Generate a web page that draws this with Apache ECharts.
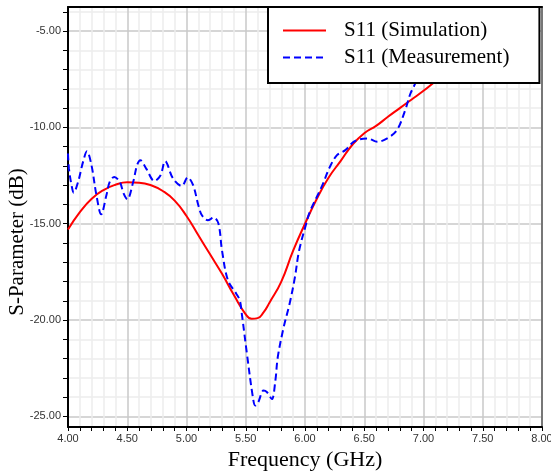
<!DOCTYPE html>
<html>
<head>
<meta charset="utf-8">
<script src="https://cdn.jsdelivr.net/npm/echarts@6/dist/echarts.min.js"></script>
<style>
html,body{margin:0;padding:0;background:#fff;}
#c{width:551px;height:472px;}
</style>
</head>
<body>
<div id="c"></div>
<script>
// ---- Data ----
var simFreq = [4.00,4.10,4.20,4.30,4.40,4.50,4.60,4.70,4.80,4.90,5.00,5.10,5.20,5.30,5.40,5.50,5.55,5.60,5.65,5.70,5.80,5.90,6.00,6.10,6.20,6.30,6.40,6.50,6.60,6.70,6.80,6.90,7.00,7.10,7.20,7.30];
var simS11 = [-15.3,-14.4,-13.7,-13.25,-12.98,-12.85,-12.87,-13.0,-13.3,-13.8,-14.6,-15.6,-16.6,-17.6,-18.7,-19.7,-19.93,-19.9,-19.6,-19.1,-18.0,-16.4,-15.0,-13.7,-12.6,-11.75,-10.9,-10.3,-9.92,-9.45,-9.0,-8.55,-8.1,-7.6,-7.1,-6.6];

var measFreq = [4.00,4.008,4.03,4.048,4.085,4.127,4.16,4.198,4.24,4.28,4.324,4.352,4.39,4.437,4.47,4.50,4.55,4.583,4.61,4.66,4.73,4.78,4.82,4.887,4.96,5.01,5.056,5.10,5.13,5.18,5.23,5.27,5.30,5.35,5.42,5.45,5.465,5.51,5.56,5.58,5.605,5.65,5.68,5.72,5.75,5.77,5.82,5.87,5.915,5.95,6.01,6.04,6.14,6.21,6.27,6.34,6.41,6.465,6.53,6.61,6.69,6.775,6.845,6.89,6.93,6.97];
var measS11 = [-11.35,-12.14,-13.0,-13.39,-12.83,-11.79,-11.24,-11.96,-13.52,-14.51,-13.52,-12.83,-12.57,-12.83,-13.44,-13.73,-12.83,-11.96,-11.7,-12.14,-12.78,-12.5,-11.76,-12.66,-13.04,-12.6,-13.0,-14.04,-14.56,-14.82,-14.68,-15.0,-16.4,-17.94,-18.63,-18.98,-19.59,-21.75,-24.0,-24.44,-24.27,-23.66,-23.75,-24.1,-23.14,-21.93,-20.37,-19.15,-17.77,-16.4,-15.0,-14.39,-13.09,-12.05,-11.44,-11.18,-10.75,-10.61,-10.58,-10.75,-10.58,-10.15,-9.11,-8.24,-7.72,-7.0];

var xMin = 4, xMax = 8;
var yMin = -25.55, yMax = -3.75;
var yTickValues = [-25,-24,-23,-22,-21,-20,-19,-18,-17,-16,-15,-14,-13,-12,-11,-10,-9,-8,-7,-6,-5,-4];
var yLabelValues = [-25,-20,-15,-10,-5];
var xLabelValues = [4.0,4.5,5.0,5.5,6.0,6.5,7.0,7.5,8.0];
var xTickValues = [];
for (var i = 40; i <= 80; i++) xTickValues.push(i / 10);

function zip(a, b) { return a.map(function (v, i) { return [v, b[i]]; }); }

var serif = '"Liberation Serif","Times New Roman",serif';
var sans = '"Liberation Sans",Arial,sans-serif';
var MAJOR = '#c9c9c9', MINOR = '#ececec';

var chart = echarts.init(document.getElementById('c'), null, {renderer: 'canvas'});
chart.setOption({
  animation: false,
  backgroundColor: '#fff',
  grid: {left: 68, right: 9, top: 7, bottom: 45, show: false, containLabel: false, outerBoundsMode: 'none'},
  legend: {
    orient: 'vertical',
    left: 268, top: 7,
    padding: [13, 30, 15, 14],
    itemWidth: 43, itemHeight: 14, itemGap: 6,
    backgroundColor: '#fff',
    borderColor: '#000', borderWidth: 2, borderRadius: 0,
    itemStyle: {opacity: 0},
    textStyle: {fontFamily: serif, fontSize: 21, color: '#000', lineHeight: 21, padding: [0, 0, 0, 13]},
    data: ['S11 (Simulation)', 'S11 (Measurement)']
  },
  xAxis: [{
    type: 'value', min: xMin, max: xMax, position: 'bottom',
    name: 'Frequency (GHz)', nameLocation: 'middle', nameGap: 22, nameMoveOverlap: false,
    nameTextStyle: {fontFamily: serif, fontSize: 22, color: '#000'},
    axisLine: {show: true, onZero: false, lineStyle: {color: '#000', width: 2}},
    axisTick: {show: true, length: 4, customValues: xTickValues, lineStyle: {color: '#000', width: 1}},
    axisLabel: {customValues: xLabelValues, fontFamily: sans, fontSize: 11, color: '#333', margin: 6,
      formatter: function (v) { return v.toFixed(2); }},
    splitLine: {show: true, lineStyle: {color: [MAJOR, MINOR, MINOR, MINOR, MINOR], width: 1.5}}
  }, {
    type: 'value', min: xMin, max: xMax, position: 'top',
    axisLine: {show: true, onZero: false, lineStyle: {color: '#000', width: 2}},
    axisTick: {show: false}, axisLabel: {show: false}, splitLine: {show: false}
  }],
  yAxis: [{
    type: 'value', min: yMin, max: yMax, position: 'left',
    name: 'S-Parameter (dB)', nameLocation: 'middle', nameGap: 40, nameMoveOverlap: false,
    nameTextStyle: {fontFamily: serif, fontSize: 21, color: '#000', padding: [0, 50, 0, 0]},
    axisLine: {show: true, onZero: false, lineStyle: {color: '#000', width: 2}},
    axisTick: {show: true, length: 5, customValues: yTickValues, lineStyle: {color: '#000', width: 1}},
    axisLabel: {customValues: yLabelValues, fontFamily: sans, fontSize: 11, color: '#333', margin: 7,
      formatter: function (v) { return v.toFixed(2); }},
    splitLine: {show: true, lineStyle: {color: [MAJOR, MINOR, MINOR, MINOR, MINOR], width: 1.5}}
  }, {
    type: 'value', min: yMin, max: yMax, position: 'right',
    axisLine: {show: true, onZero: false, lineStyle: {color: '#777', width: 2}},
    axisTick: {show: false}, axisLabel: {show: false}, splitLine: {show: false}
  }],
  series: [{
    name: 'S11 (Simulation)', type: 'line', xAxisIndex: 0, yAxisIndex: 0,
    data: zip(simFreq, simS11), smooth: true, symbol: 'none',
    lineStyle: {color: '#ff0000', width: 2, type: 'solid'}, itemStyle: {color: '#ff0000'}
  }, {
    name: 'S11 (Measurement)', type: 'line', xAxisIndex: 0, yAxisIndex: 0,
    data: zip(measFreq, measS11), smooth: 0.35, symbol: 'none',
    lineStyle: {color: '#0000ff', width: 2, type: [7, 4]}, itemStyle: {color: '#0000ff'}
  }]
});
</script>
</body>
</html>
